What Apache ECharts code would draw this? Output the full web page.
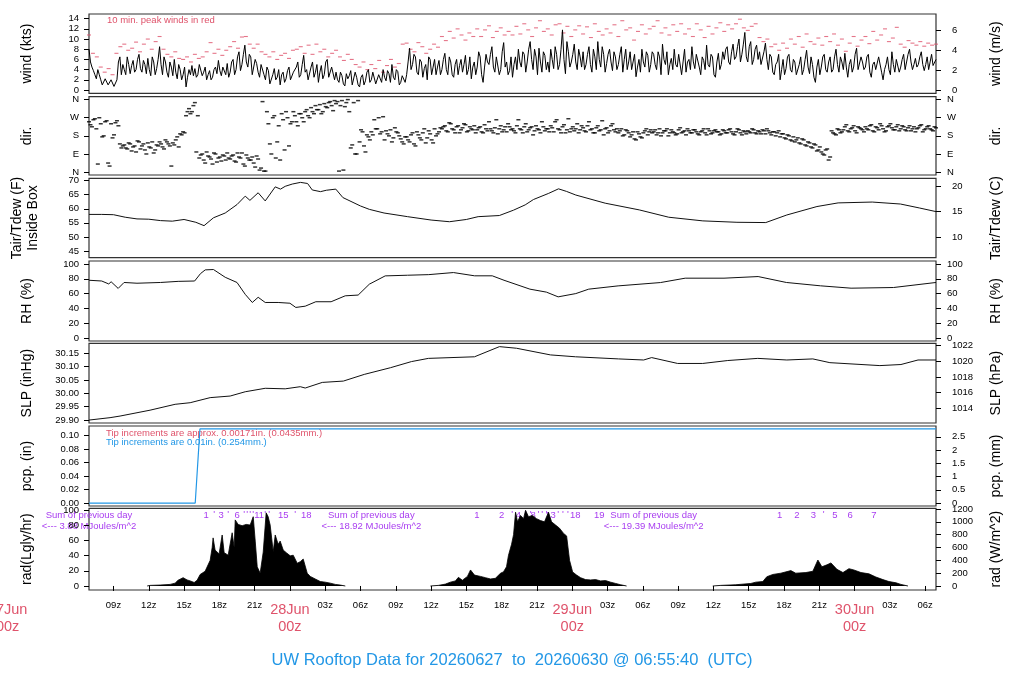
<!DOCTYPE html>
<html><head><meta charset="utf-8">
<script src="https://cdn.jsdelivr.net/npm/echarts@6/dist/echarts.min.js"></script>
<style>html,body{margin:0;padding:0;background:#fff}#c{width:1024px;height:700px}</style>
</head><body><div id="c"></div>
<script>
// time axis: hours since 27Jun 00z
const X_MIN = 6.92, X_MAX = 78.92;
const hourTicks = [9,12,15,18,21,24,27,30,33,36,39,42,45,48,51,54,57,60,63,66,69,72,75,78];
const hourLabelVals = [9,12,15,18,21,27,30,33,36,39,42,45,51,54,57,60,63,66,69,75,78];
const dayLabels = [[0,'27Jun'],[24,'28Jun'],[48,'29Jun'],[72,'30Jun']];

// wind speed (kts), every 15 min from 6.92h
const WIND_START = 6.92, WIND_STEP = 0.25;
const windKts = [
8.0,4.5,3.0,4.0,2.0,1.2,2.5,0.8,1.8,0.9,5.5,3.0,
4.0,6.5,3.2,5.8,4.0,7.0,3.5,5.0,6.2,2.8,5.5,4.2,
8.5,3.0,5.5,2.5,4.5,6.0,2.2,4.0,3.0,0.6,4.0,4.8,
4.2,3.0,4.8,3.5,2.0,3.8,2.5,4.5,5.8,2.8,4.2,5.2,
3.5,6.0,4.0,7.5,5.0,8.8,4.5,6.5,3.0,5.2,2.5,4.8,
2.0,3.8,1.5,4.2,2.5,1.0,3.5,2.2,4.5,1.8,3.2,5.5,
3.0,6.8,4.0,2.2,5.5,3.5,1.5,4.8,3.0,6.0,2.8,4.2,
3.5,1.5,2.8,0.8,2.2,3.8,1.2,2.5,0.6,3.0,1.8,4.0,
2.0,3.5,1.0,2.8,4.0,1.8,3.2,5.0,2.0,3.6,1.5,3.0,
3.0,8.2,5.0,6.5,3.0,5.5,4.2,2.0,6.0,4.5,3.0,5.8,
4.0,7.2,3.0,5.5,2.5,6.0,4.8,3.5,6.8,4.0,2.2,5.5,
4.5,6.5,1.5,7.0,5.0,8.5,3.5,6.2,4.0,9.3,5.5,3.8,
2.5,6.5,8.0,4.5,7.0,5.5,9.5,4.0,6.5,8.2,3.5,6.8,
5.5,8.0,4.2,7.0,5.0,11.8,3.2,7.5,5.5,9.0,4.0,6.5,
7.5,5.0,8.5,3.5,6.5,9.5,4.5,7.0,5.2,8.0,3.8,6.5,
5.0,8.5,6.0,4.0,7.5,5.5,2.6,6.0,8.0,4.5,6.8,5.0,
7.0,4.0,6.5,9.0,5.0,3.0,6.2,8.0,4.5,7.2,5.5,3.5,
6.0,8.5,4.2,7.0,3.0,5.8,8.8,4.5,6.5,2.5,7.2,5.0,
6.0,8.5,5.0,9.0,6.5,10.0,7.0,11.3,5.5,9.5,6.0,8.8,
7.5,5.0,9.2,4.0,6.5,3.0,5.5,2.0,6.0,4.2,7.0,3.5,
5.5,2.8,6.5,4.0,7.8,3.2,5.0,1.5,6.0,4.5,7.0,3.5,
6.5,4.0,8.0,3.5,5.5,7.2,2.5,6.0,4.5,8.2,3.8,5.5,
4.5,7.0,2.5,5.5,3.8,6.5,2.0,5.0,4.0,7.5,3.5,5.8,
4.5,7.0,5.5,8.0,4.0,6.2,5.0,7.5,3.8,6.5,5.5,4.8,6.0];
// wind speed (kts), intermediate readings, every 15 min from 7.045h
const WIND_B_START = 7.045;
const windKtsB = [
5.5,3.8,2.2,3.0,1.0,2.2,1.0,2.0,0.7,2.0,6.5,5.0,
3.0,5.0,4.8,3.5,6.0,4.2,5.8,3.2,4.0,6.5,3.0,6.0,
5.0,6.5,3.5,5.5,2.8,3.5,5.0,2.0,4.5,2.5,3.0,2.8,
2.5,5.0,2.8,4.5,3.0,2.0,4.0,3.2,3.8,4.5,3.0,2.5,
5.5,3.0,6.5,3.8,7.0,5.5,7.0,3.0,6.0,3.5,5.0,3.0,
4.5,1.2,3.0,2.0,4.0,3.0,1.5,3.8,2.0,3.5,4.5,2.5,
5.0,3.5,2.0,4.5,2.5,5.0,3.5,2.2,5.5,2.5,4.5,2.0,
2.0,3.5,1.2,3.2,2.8,1.0,3.5,1.0,2.5,1.0,3.5,1.5,
3.5,1.2,3.0,1.5,2.5,3.8,1.5,2.5,4.0,1.0,2.8,1.5,
5.5,4.0,7.0,3.5,6.0,2.5,5.0,6.5,3.0,6.0,4.5,3.0,
6.0,4.0,6.5,3.0,5.0,3.0,6.0,5.0,3.0,6.5,4.5,3.0,
7.5,3.0,4.5,5.5,7.0,4.5,6.5,3.0,7.5,4.5,3.0,6.5,
5.0,4.0,5.5,7.5,3.5,8.0,6.0,8.0,3.0,5.5,7.5,4.0,
3.5,6.0,8.5,4.0,8.0,6.0,9.5,4.5,7.0,5.5,8.0,4.5,
4.0,7.0,5.0,8.0,4.0,6.0,8.5,3.5,7.0,5.5,7.5,4.0,
7.0,3.5,8.0,5.5,4.0,7.0,4.5,3.5,5.5,7.5,3.5,7.5,
5.0,7.5,3.0,6.0,7.5,5.0,4.0,5.0,7.0,3.0,8.0,5.5,
4.0,5.5,7.0,4.5,6.5,4.0,5.0,7.0,3.0,5.5,4.0,7.5,
8.0,5.5,7.5,6.0,8.5,5.5,9.0,6.5,8.5,5.0,8.0,6.0,
5.0,7.5,6.0,7.0,3.5,5.0,7.0,4.0,3.0,6.5,4.0,6.0,
3.0,5.0,3.0,6.0,4.5,6.5,2.5,4.5,3.0,6.5,4.0,5.5,
3.5,6.5,5.0,6.5,4.0,4.5,5.0,3.5,7.0,4.0,6.5,4.0,
6.5,3.5,5.0,4.0,6.5,3.5,4.0,6.5,3.0,5.0,6.0,3.5,
6.0,4.0,7.0,5.5,5.0,4.5,6.5,5.0,5.0,4.0,7.0,5.0];

// 10-min peak winds (kts), every 20 min from 6.92h
const PEAK_START = 6.92, PEAK_STEP = 1/3;
const peakKts = [
10.8,7.2,6.5,4.5,3.5,4.2,3.0,7.2,8.5,
9.0,7.8,8.2,9.4,7.5,9.0,10.0,8.0,9.5,
10.5,8.0,7.0,6.5,7.5,6.2,6.0,6.5,5.5,
7.0,6.2,6.5,7.5,9.3,7.2,8.0,6.8,7.8,
8.5,9.5,8.2,10.4,10.5,9.0,8.2,9.0,7.5,
7.0,6.5,7.5,6.0,6.8,7.2,6.2,7.8,8.0,
8.5,7.2,8.8,7.0,9.0,7.5,8.0,6.5,7.2,
7.8,6.5,5.8,7.0,6.0,5.0,4.5,5.5,4.0,
5.0,4.2,5.8,3.5,4.8,6.0,4.5,5.2,9.0,
9.2,8.0,7.5,9.3,8.5,7.2,8.0,9.0,8.4,
10.5,9.7,11.5,10.2,12.0,10.8,9.8,11.2,10.5,
12.0,10.5,11.8,12.6,10.3,11.5,12.2,10.8,11.5,
10.8,12.5,11.0,13.0,11.8,10.5,12.2,13.6,11.5,
12.0,10.8,12.8,13.0,11.2,12.5,10.5,11.8,12.6,
11.0,12.4,10.3,13.0,11.5,10.8,12.0,11.2,12.8,
10.5,13.6,11.8,12.2,9.8,11.5,12.8,11.0,12.0,
12.5,13.6,11.2,12.2,10.8,12.8,11.5,13.0,11.0,
12.0,10.5,13.0,11.8,10.3,12.5,11.0,12.2,13.2,
11.5,12.8,12.0,13.0,13.9,12.2,11.7,12.5,13.0,
10.3,9.5,10.0,8.5,9.0,7.8,9.2,8.2,10.0,
9.0,10.5,8.4,11.0,9.5,9.0,10.2,8.8,10.5,
9.5,11.0,8.8,10.0,7.6,9.2,10.5,8.6,9.8,
10.5,9.1,11.5,9.8,10.8,12.0,9.5,10.2,12.3,
9.0,8.4,9.7,9.2,8.8,9.5,8.6,9.2,8.8,9.0];

// wind direction (deg), every 15 min from 6.92h
const DIR_START = 6.92, DIR_STEP = 0.25;
const dirDeg = [
250,225,265,40,240,180,255,30,170,245,230,120,
135,115,140,125,100,150,130,110,145,120,95,135,
150,125,160,140,30,135,175,190,200,280,315,300,
345,280,85,60,100,75,40,90,70,55,80,95,
65,85,50,75,95,30,70,60,45,80,10,350,
5,240,90,280,150,60,260,300,130,250,280,230,
290,250,310,270,300,330,310,290,340,320,350,305,
340,5,355,325,360,120,345,90,150,200,100,175,
200,260,215,190,275,205,180,150,220,195,165,140,
175,150,195,130,185,160,215,170,190,145,180,200,
215,230,200,240,210,225,195,220,235,205,215,230,
210,225,195,215,250,205,220,190,230,210,200,225,
215,195,260,210,225,200,220,185,230,210,250,205,
215,230,200,260,210,225,195,265,215,205,240,210,
220,200,250,215,195,230,210,185,220,205,240,200,
195,215,185,205,175,200,160,190,170,205,185,210,
200,185,215,195,205,180,210,195,190,220,200,185,
205,195,210,190,200,215,185,205,195,210,200,190,
205,195,215,190,200,210,185,200,205,195,210,190,
200,210,190,205,185,200,195,175,190,165,180,155,
150,170,140,160,130,145,120,135,110,100,85,115,
75,195,185,210,200,225,205,215,230,195,220,210,
225,210,235,200,220,240,215,205,230,220,210,235,
215,225,205,230,215,200,220,235,210,225,215,205,220];
// wind direction (deg), intermediate readings, every 15 min from 7.045h
const DIR_B_START = 7.045;
const dirDegB = [
235,260,215,270,175,250,45,240,185,255,140,130,
120,145,105,130,155,115,140,90,125,150,110,130,
140,115,150,130,145,160,125,185,195,300,290,330,
100,70,90,45,80,65,95,50,75,85,60,70,
80,55,95,70,40,85,60,75,25,65,20,5,
300,140,270,70,230,290,110,270,240,300,250,290,
270,300,280,320,290,310,335,300,325,345,330,355,
350,330,10,345,300,135,90,355,210,130,185,160,
185,215,270,200,160,190,210,170,200,180,150,175,
160,185,140,200,170,195,145,205,160,215,190,220,
225,205,245,215,195,230,210,240,200,225,210,195,
220,200,235,205,215,195,260,215,200,225,240,210,
205,230,215,195,240,210,225,205,215,195,225,215,
200,220,250,215,195,235,210,200,225,215,195,230,
205,230,210,195,220,205,255,215,195,230,210,215,
205,180,210,195,185,165,200,175,195,215,200,195,
210,195,180,205,215,195,200,185,210,195,205,215,
195,210,200,185,205,195,215,190,205,200,185,210,
195,210,200,185,215,195,205,190,200,215,195,205,
190,205,215,195,200,180,205,190,170,185,160,175,
160,145,165,135,150,125,140,105,125,90,110,60,
205,190,215,195,210,235,200,220,205,225,215,200,
215,230,205,225,210,230,200,225,240,210,225,205,
230,210,220,205,225,215,230,200,215,230,210,225];
const dirNames = {0:'N',90:'E',180:'S',270:'W',360:'N'};

// air temperature inside box (F): [hour, value]
const tempF = [[6.92,58.0],[8,58.0],[9,57.9],[10,57.0],[11,56.4],[12,56.3],[13,55.8],[14,55.6],[15,56.2],[16,55.2],[16.7,54.0],[17.5,56.8],[18.5,58.5],[19.5,61.5],[20.2,64.5],[20.6,63.0],[21.3,65.7],[21.9,62.8],[22.75,67.8],[23.2,67.0],[23.6,68.0],[24.2,68.8],[24.9,69.4],[25.5,69.0],[25.9,66.7],[26.6,66.1],[27.1,66.6],[27.9,67.0],[28.5,64.0],[30,61.0],[30.75,59.8],[32,58.5],[34,57.2],[36,56.0],[37.56,55.4],[39,56.2],[40,57.2],[41.8,57.6],[43,59.5],[44,61.4],[44.7,63.3],[46,65.5],[46.83,67.1],[47.5,66.2],[48.3,64.9],[50.8,62.0],[53.7,59.6],[56.2,57.0],[59.1,55.7],[62,55.2],[64.45,55.1],[66.24,57.8],[68.8,60.8],[70.6,62.1],[73.5,62.4],[75.9,61.7],[77.5,60.3],[78.92,59.0]];

// relative humidity (%)
const rhPct = [[6.92,78],[8,77],[8.6,73],[8.8,76],[9.4,67],[9.9,75],[11,74],[13,75],[14.5,76.5],[15.9,77],[16.4,87],[16.8,92],[17.5,92.5],[18.5,82],[19.5,75],[20.2,59],[20.8,48],[21.3,55],[21.9,48],[23,48],[24,47],[24.5,41.3],[25.3,43],[26.2,49],[27.5,49],[28.7,57],[29.8,58],[30.75,72.7],[32.1,83.9],[34,84.8],[35.8,85.6],[37.9,88.4],[39.7,84],[41.2,84],[42.2,78],[44.4,66],[45.8,62],[46.8,55.6],[48.3,60],[49.4,66],[51.9,70.4],[55.5,74.9],[57.6,80.8],[60.9,80.8],[63.8,83],[66.2,75],[69.1,70.5],[71.7,67.3],[75.3,68.2],[78.92,75]];

// sea level pressure (inHg)
const slpInHg = [[6.92,29.900],[8.71,29.909],[9.56,29.915],[12.11,29.937],[14.24,29.959],[15.52,29.965],[17.22,29.984],[18.92,29.990],[20.2,30.006],[21.9,30.019],[23.6,30.017],[24.88,30.025],[25.3,30.020],[26.75,30.041],[28.54,30.046],[30.32,30.071],[32.54,30.096],[34.33,30.119],[35.77,30.131],[39.69,30.137],[41.81,30.175],[43.26,30.169],[46.15,30.144],[48.28,30.137],[51.94,30.129],[54.07,30.125],[54.75,30.134],[56.96,30.112],[59.09,30.112],[61.22,30.123],[63.77,30.131],[66.24,30.125],[68.45,30.129],[69.9,30.115],[74.15,30.104],[75.94,30.108],[77.39,30.125],[78.92,30.125]];

// accumulated precipitation (in)
const pcpIn = [[6.92,0],[15.95,0],[16.35,0.11],[78.92,0.11]];

// solar radiation (W/m^2), one array per day
const radDay1 = [[11.86,0],[12.11,10],[12.96,15],[13.81,25],[14.24,45],[14.49,90],[14.92,130],[15.26,95],[15.52,80],[15.86,55],[16.11,90],[16.37,180],[16.79,230],[17.22,400],[17.39,600],[17.47,750],[17.64,560],[17.98,500],[18.24,795],[18.41,520],[18.75,480],[19.09,830],[19.26,600],[19.35,1030],[19.6,960],[19.94,940],[20.28,960],[20.62,950],[20.88,1080],[21.05,700],[21.22,300],[21.47,200],[21.73,530],[21.98,1140],[22.15,1080],[22.32,950],[22.58,533],[22.75,795],[23.0,650],[23.17,700],[23.43,560],[23.69,520],[24.03,470],[24.28,480],[24.62,355],[24.88,380],[25.13,420],[25.3,430],[25.47,200],[25.73,150],[26.15,110],[26.58,70],[27.0,60],[27.43,45],[27.86,25],[28.28,15],[28.71,0]];
const radDay2 = [[35.94,0],[36.62,10],[37.22,30],[37.64,60],[38.07,80],[38.32,135],[38.66,90],[39.09,150],[39.35,250],[39.69,170],[40.2,150],[40.62,130],[41.05,110],[41.47,120],[41.9,200],[42.15,220],[42.41,300],[42.58,480],[42.84,650],[43.01,800],[43.18,1150],[43.35,1000],[43.6,1100],[43.86,1050],[44.03,1180],[44.28,1080],[44.62,1100],[44.96,1050],[45.3,1020],[45.64,1000],[45.98,1150],[46.24,1000],[46.58,950],[46.92,900],[47.26,820],[47.52,780],[47.77,400],[48.03,220],[48.37,170],[48.71,130],[49.13,100],[49.56,95],[49.98,100],[50.41,80],[50.83,85],[51.26,60],[51.69,40],[52.11,20],[52.62,0]];
const radDay3 = [[59.94,0],[60.62,10],[61.9,20],[63.18,40],[63.6,60],[64.2,70],[64.54,145],[65.05,180],[65.73,200],[66.58,240],[67.0,200],[67.86,210],[68.45,230],[68.88,405],[69.22,300],[69.65,330],[69.99,360],[70.5,260],[71.01,210],[71.52,270],[71.94,250],[72.54,210],[73.22,190],[73.81,140],[74.41,100],[74.92,70],[75.52,50],[75.94,25],[76.54,0]];

// purple hour marks above radiation panel: [hour, text]
const radMarks = [[16.88,'1'],[17.56,"'"],[18.15,'3'],[18.75,"'"],[19.52,'6'],[20.11,"'"],[20.37,"'"],[20.62,"'"],[20.88,"'"],[21.39,'11'],[21.9,"'"],[22.24,"'"],[23.43,'15'],[24.45,"'"],[25.39,'18'],
 [39.9,'1'],[42.0,'2'],[42.9,"'"],[43.43,'4'],[44.03,"'"],[44.47,"'"],[44.67,'8'],[45.13,"'"],[45.45,"'"],[45.8,"'"],[46.15,'13'],[46.8,"'"],[47.2,"'"],[47.62,"'"],[48.25,'18'],[50.29,'19'],
 [65.63,'1'],[67.1,'2'],[68.49,'3'],[69.36,"'"],[70.32,'5'],[71.63,'6'],[73.64,'7']];
const radSums = [[6.92,'3.88'],[30.92,'18.92'],[54.92,'19.39']];

const FONT = '"Liberation Sans", Arial, Helvetica, sans-serif';
const RED = '#DF536B', BLUE = '#2297E6', PURPLE = '#A83CF0';

const seq = (start, step, vals) => vals.map((v, i) => [start + step * i, v]);
const byTime = (a, b) => a[0] - b[0];

const panels = [
  {top: 14, height: 79.3},
  {top: 96.7, height: 78.3},
  {top: 178.3, height: 79.4},
  {top: 261, height: 80},
  {top: 343.3, height: 79.7},
  {top: 426, height: 80},
  {top: 508.3, height: 81.7}
];

const grids = panels.map(p => ({left: 89, right: 88, top: p.top, height: p.height, show: true,
  containLabel: false, outerBoundsMode: 'none',
  borderColor: '#333', borderWidth: 1.2, backgroundColor: 'transparent'}));

const xAxes = panels.map((p, i) => {
  const base = {gridIndex: i, type: 'value', min: X_MIN, max: X_MAX, splitLine: {show: false}};
  if (i < panels.length - 1) return Object.assign(base, {show: false});
  return Object.assign(base, {
    axisLine: {show: false},
    axisTick: {show: true, customValues: hourTicks, length: 5, lineStyle: {color: '#000'}},
    axisLabel: {customValues: hourLabelVals, formatter: v => String(v % 24).padStart(2, '0') + 'z',
      fontSize: 9.5, margin: 10, color: '#000', fontFamily: FONT}
  });
});

function yAx(g, pos, min, max, ticks, fmt, name, margin, gap) {
  return {
    gridIndex: g, type: 'value', position: pos, min, max,
    axisLine: {show: false}, splitLine: {show: false},
    axisTick: {show: true, customValues: ticks, length: 5, lineStyle: {color: '#000'}},
    axisLabel: {customValues: ticks, formatter: fmt, fontSize: 9.5, color: '#000', margin, fontFamily: FONT,
      align: pos === 'left' ? 'right' : 'left'},
    name, nameLocation: 'middle', nameRotate: 90, nameGap: gap || (pos === 'left' ? 54 : 52),
    nameTextStyle: {fontSize: 14, color: '#000', fontFamily: FONT, lineHeight: 16}
  };
}
const str = v => String(v);
const f2 = v => v.toFixed(2);
const yAxes = [
  yAx(0, 'left', -0.65, 14.92, [0,2,4,6,8,10,12,14], str, 'wind (kts)', 10),
  yAx(0, 'right', -0.65 * 0.514444, 14.92 * 0.514444, [0,2,4,6], str, 'wind (m/s)', 16),
  yAx(1, 'left', -14.4, 374.4, [0,90,180,270,360], v => dirNames[v], 'dir.', 10),
  yAx(1, 'right', -14.4, 374.4, [0,90,180,270,360], v => dirNames[v], 'dir.', 11),
  yAx(2, 'left', 42.6, 70.85, [45,50,55,60,65,70], str, 'Tair/Tdew (F)\nInside Box', 10, 48),
  yAx(2, 'right', (42.6 - 32) / 1.8, (70.85 - 32) / 1.8, [10,15,20], str, 'Tair/Tdew (C)', 16),
  yAx(3, 'left', -4, 104, [0,20,40,60,80,100], str, 'RH (%)', 10),
  yAx(3, 'right', -4, 104, [0,20,40,60,80,100], str, 'RH (%)', 11),
  yAx(4, 'left', 29.889, 30.1875, [29.90,29.95,30.00,30.05,30.10,30.15], f2, 'SLP (inHg)', 10),
  yAx(4, 'right', 29.889 * 33.8639, 30.1875 * 33.8639, [1014,1016,1018,1020,1022], str, 'SLP (hPa)', 16),
  yAx(5, 'left', -0.0044, 0.1144, [0,0.02,0.04,0.06,0.08,0.10], f2, 'pcp. (in)', 10),
  yAx(5, 'right', -0.0044 * 25.4, 0.1144 * 25.4, [0,0.5,1,1.5,2,2.5], str, 'pcp. (mm)', 16),
  yAx(6, 'left', -5.3, 102.2, [0,20,40,60,80,100], str, 'rad(Lgly/hr)', 10),
  yAx(6, 'right', -62, 1211, [0,200,400,600,800,1000,1200], str, 'rad (W/m^2)', 16)
];

const radSeries = [radDay1, radDay2, radDay3].map(d => ({
  type: 'line', xAxisIndex: 6, yAxisIndex: 13, data: d, symbol: 'none', silent: true,
  lineStyle: {color: '#000', width: 0.8}, areaStyle: {color: '#000', opacity: 1}
}));

const windAll = seq(WIND_START, WIND_STEP, windKts).concat(seq(WIND_B_START, WIND_STEP, windKtsB)).sort(byTime);
const dirAll = seq(DIR_START, DIR_STEP, dirDeg).concat(seq(DIR_B_START, DIR_STEP, dirDegB));

const option = {
  animation: false,
  backgroundColor: '#fff',
  grid: grids, xAxis: xAxes, yAxis: yAxes,
  series: [
    {type: 'line', xAxisIndex: 0, yAxisIndex: 0, data: windAll, symbol: 'none', silent: true,
      lineStyle: {color: '#000', width: 1}},
    {type: 'scatter', xAxisIndex: 0, yAxisIndex: 0, data: seq(PEAK_START, PEAK_STEP, peakKts), symbol: 'rect',
      symbolSize: [4, 1.1], itemStyle: {color: RED}, silent: true},
    {type: 'scatter', xAxisIndex: 1, yAxisIndex: 2, data: dirAll, symbol: 'rect',
      symbolSize: [4, 1.5], itemStyle: {color: '#000'}, silent: true},
    {type: 'line', xAxisIndex: 2, yAxisIndex: 4, data: tempF, symbol: 'none', silent: true, lineStyle: {color: '#111', width: 1}},
    {type: 'line', xAxisIndex: 3, yAxisIndex: 6, data: rhPct, symbol: 'none', silent: true, lineStyle: {color: '#111', width: 1}},
    {type: 'line', xAxisIndex: 4, yAxisIndex: 8, data: slpInHg, symbol: 'none', silent: true, lineStyle: {color: '#111', width: 1}},
    {type: 'line', xAxisIndex: 5, yAxisIndex: 10, data: pcpIn, symbol: 'none', silent: true, lineStyle: {color: BLUE, width: 1.2}}
  ].concat(radSeries)
};

const chart = echarts.init(document.getElementById('c'), null, {renderer: 'canvas'});
chart.setOption(option);

const px = t => chart.convertToPixel({xAxisIndex: 6}, t);
const txt = (x, y, text, color, size, align) => ({
  type: 'text', x, y, silent: true,
  style: {text, fill: color, font: size + 'px ' + FONT, align: align || 'left', verticalAlign: 'middle'}
});

const graphics = [];
graphics.push(txt(107, 20, '10 min. peak winds in red', RED, 9.5));
graphics.push(txt(106, 433.3, 'Tip increments are approx. 0.00171in. (0.0435mm.)', RED, 9.5));
graphics.push(txt(106, 442.3, 'Tip increments are 0.01in. (0.254mm.)', BLUE, 9.5));
radMarks.forEach(([t, s]) => graphics.push(txt(px(t), s === "'" ? 514 : 515, s, PURPLE, 9.5, 'center')));
radSums.forEach(([t, s]) => {
  graphics.push(txt(px(t), 515, 'Sum of previous day', PURPLE, 9.5, 'center'));
  graphics.push(txt(px(t), 526.5, '<--- ' + s + ' MJoules/m^2', PURPLE, 9.5, 'center'));
});
dayLabels.forEach(([t, s]) => {
  graphics.push(txt(px(t), 609.5, s, RED, 14.5, 'center'));
  graphics.push(txt(px(t), 627, '00z', RED, 14.5, 'center'));
});
graphics.push(txt(512, 660, 'UW Rooftop Data for 20260627  to  20260630 @ 06:55:40  (UTC)', BLUE, 16.5, 'center'));
chart.setOption({graphic: graphics});
</script>
</body></html>
